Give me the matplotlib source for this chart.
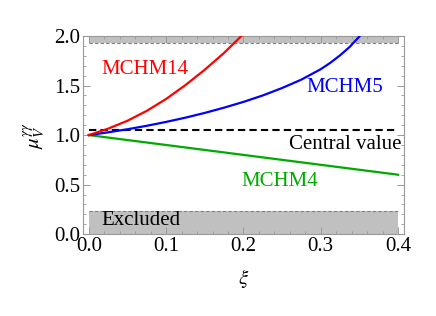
import matplotlib
matplotlib.use("Agg")
import matplotlib.pyplot as plt
from matplotlib.ticker import MultipleLocator, FormatStrFormatter

# Data
xi_14 = [0.0, 0.025, 0.05, 0.075, 0.1, 0.125, 0.15, 0.175, 0.2]
mu_14 = [1.0, 1.065, 1.145, 1.245, 1.365, 1.505, 1.66, 1.83, 2.02]
xi_5 = [0.0, 0.025, 0.05, 0.075, 0.1, 0.125, 0.15, 0.175, 0.2, 0.225,
        0.25, 0.275, 0.3, 0.3125, 0.325, 0.3375, 0.35]
mu_5 = [1.0, 1.028, 1.059, 1.094, 1.133, 1.176, 1.224, 1.277, 1.335, 1.40,
        1.475, 1.56, 1.665, 1.73, 1.805, 1.89, 1.995]
xi_4 = [0.0, 0.4]
mu_4 = [1.0, 0.6]
central_value = 1.05
excl_low = 0.23
excl_high = 1.93
x_range = [0.0, 0.4]
labels = ["MCHM14", "MCHM5", "MCHM4", "Central value", "Excluded"]

SERIF = ['Liberation Serif', 'DejaVu Serif']
plt.rcParams['font.family'] = SERIF
plt.rcParams['mathtext.fontset'] = 'stix'

fig = plt.figure(figsize=(4.36, 3.16), dpi=100)
ax = fig.add_axes([0.190, 0.259, 0.737, 0.627])

band = '#c0c0c0'
ax.fill_between(x_range, 0, excl_low, color=band, lw=0, zorder=1)
ax.fill_between(x_range, excl_high, 2.0, color=band, lw=0, zorder=1)
ax.plot(x_range, [excl_low] * 2, color='#808080', ls=(0, (3, 2)), lw=0.8, zorder=2)
ax.plot(x_range, [excl_high] * 2, color='#808080', ls=(0, (3, 2)), lw=0.8, zorder=2)

ax.plot(x_range, [central_value] * 2, color='black', ls=(0, (3.5, 2)), lw=1.5, zorder=3)
ax.plot(xi_4, mu_4, color='#00aa00', lw=1.6, zorder=4)
ax.plot(xi_5, mu_5, color='#0000ff', lw=1.6, zorder=4)
ax.plot(xi_14, mu_14, color='#ff0000', lw=1.6, zorder=4)

fs = 15
kw = dict(fontsize=fs, family=SERIF, va='center')
ax.text(0.0725, 1.66, labels[0], color='#ff0000', ha='center', **kw)
ax.text(0.331, 1.485, labels[1], color='#0000ff', ha='center', **kw)
ax.text(0.247, 0.535, labels[2], color='#00aa00', ha='center', **kw)
ax.text(0.404, 0.90, labels[3], color='black', ha='right', **kw)
ax.text(0.068, 0.14, labels[4], color='black', ha='center', **kw)

ax.set_xlim(-0.0078, 0.408)
ax.set_ylim(0, 2.0)
ax.xaxis.set_major_locator(MultipleLocator(0.1))
ax.xaxis.set_minor_locator(MultipleLocator(0.02))
ax.yaxis.set_major_locator(MultipleLocator(0.5))
ax.yaxis.set_minor_locator(MultipleLocator(0.1))
ax.xaxis.set_major_formatter(FormatStrFormatter('%.1f'))
ax.yaxis.set_major_formatter(FormatStrFormatter('%.1f'))

fc = '#999999'
for s in ax.spines.values():
    s.set_color(fc)
    s.set_linewidth(0.8)
ax.tick_params(which='both', direction='in', top=True, right=True, color=fc,
               labelsize=fs, pad=2)
ax.tick_params(which='major', length=5, width=0.7)
ax.tick_params(which='minor', length=2.5, width=0.6)
for lab in ax.get_xticklabels() + ax.get_yticklabels():
    lab.set_family(SERIF)

ax.set_xlabel(r'$\xi$', fontsize=fs, labelpad=8)
ax.set_ylabel(r'$\mu_V^{\gamma\gamma}$', fontsize=fs, labelpad=4)

fig.savefig('out.png', dpi=100)
